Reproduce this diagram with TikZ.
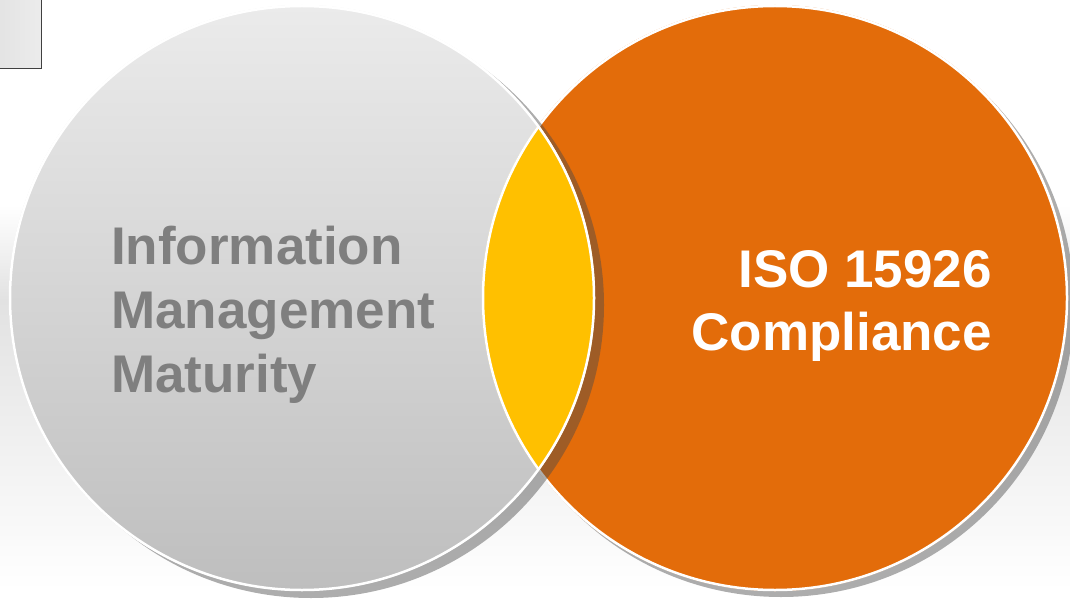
\documentclass[tikz,border=0pt]{standalone}
\usepackage{fontspec}
\setmainfont{Liberation Sans}
\usetikzlibrary{calc}
\definecolor{bggray}{HTML}{E2E2E2}
\definecolor{orangefill}{HTML}{E36C0A}
\definecolor{lensyellow}{HTML}{FFC000}
\definecolor{textgray}{HTML}{7F7F7F}
\definecolor{circtop}{HTML}{EBEBEB}
\definecolor{circbot}{HTML}{BEBEBE}
\definecolor{shadowgray}{HTML}{4A4A4A}
\begin{document}
\begin{tikzpicture}[x=1pt,y=-1pt,
  shadowc/.style={fill=shadowgray,fill opacity=0.45},
  ringline/.style={draw=white,line width=2.5pt},
  lbl/.style={font=\bfseries\fontsize{53}{63}\selectfont,inner sep=0pt}]
\useasboundingbox (0,0) rectangle (1070,604);
% background
\shade[top color=white,bottom color=bggray,draw=none] (0,205) rectangle (1070,300);
\shade[top color=bggray,bottom color=white,draw=none] (0,300) rectangle (1070,590);
% top-left box
\draw[left color=gray!22,right color=gray!15,draw=black!75,line width=1.4pt] (-3,-3) rectangle (41.5,68.5);
% centres
\coordinate (cL) at (302,298);
\coordinate (cR) at (775,298);
% right circle
\fill[shadowc] ($(cR)+(6,6)$) circle[radius=293pt];
\fill[orangefill] (cR) circle[radius=293pt];
\draw[ringline] (cR) circle[radius=292pt];
% left circle
\fill[shadowc] ($(cL)+(9,7)$) circle[radius=293pt];
\shade[top color=circtop,bottom color=circbot] (cL) circle[radius=293pt];
% lens
\begin{scope}
  \clip (cL) circle[radius=293pt];
  \fill[lensyellow] (cR) circle[radius=293pt];
  \draw[ringline] (cR) circle[radius=292pt];
\end{scope}
\draw[ringline] (cL) circle[radius=292pt];
% labels
\node[lbl,text=textgray,anchor=base west] (l1) at (111,264) {Information};
\node[lbl,text=textgray,anchor=base west] (l2) at (111,328) {Management};
\node[lbl,text=textgray,anchor=base west] (l3) at (111,392) {Maturity};
\node[lbl,text=white,anchor=base east] (r1) at (992,287) {ISO 15926};
\node[lbl,text=white,anchor=base east] (r2) at (992,350) {Compliance};
\end{tikzpicture}
\end{document}
